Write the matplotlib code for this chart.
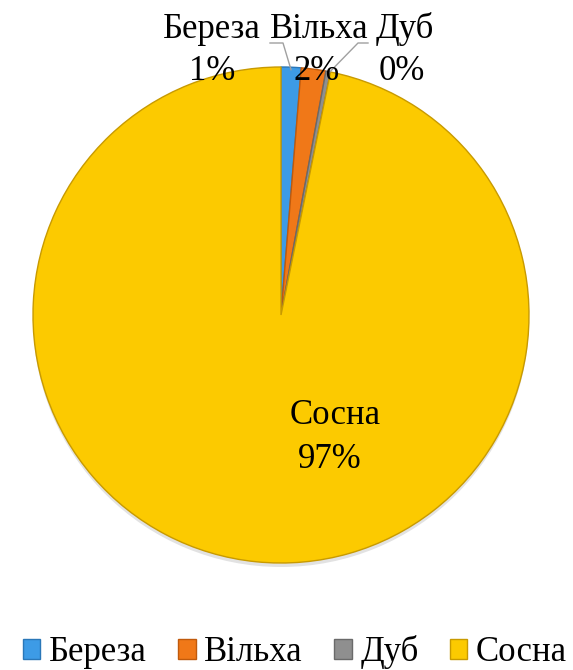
import numpy as np
import matplotlib
matplotlib.use("Agg")
import matplotlib.pyplot as plt
from matplotlib.patches import Patch

species = ["Береза", "Вільха", "Дуб", "Сосна"]
shares = [1.3, 1.6, 0.3, 96.8]
pct_labels = ["1%", "2%", "0%", "97%"]
colors = ["#3d9be6", "#f07818", "#8f8f8f", "#fcca00"]
edges = ["#2a77b8", "#c05a0c", "#6a6a6a", "#c89a00"]

plt.rcParams["font.family"] = ["Liberation Serif", "DejaVu Serif"]

W, H = 573, 670
fig = plt.figure(figsize=(W / 100, H / 100), dpi=100)
ax = fig.add_axes([0, 0, 1, 1])

cx, cy, r = 281, H - 315, 248
# faint shadow under the pie
ax.pie([1], colors=["#e2e2e2"], radius=r, center=(cx, cy - 4),
       frame=True, wedgeprops=dict(linewidth=0))
wedges, _ = ax.pie(shares, colors=colors, startangle=90, counterclock=False,
                   radius=r, center=(cx, cy), frame=True,
                   wedgeprops=dict(linewidth=1.0))
for w, ec in zip(wedges, edges):
    w.set_edgecolor(ec)

ax.set_xlim(0, W)
ax.set_ylim(0, H)
ax.set_aspect("equal")
ax.axis("off")

fs = 25


def edge_point(w, frac=0.99):
    a = np.deg2rad(0.5 * (w.theta1 + w.theta2))
    return cx + frac * r * np.cos(a), cy + frac * r * np.sin(a)


# small-slice labels above the pie
name_x = [212, 319, 405]
pct_x = [212, 317, 402]
for i in range(3):
    ax.text(name_x[i], H - 29, species[i], ha="center", va="center", fontsize=fs)
    ax.text(pct_x[i], H - 72, pct_labels[i], ha="center", va="center", fontsize=fs)

# leader lines (Береза, Дуб)
px, py = edge_point(wedges[0])
ax.plot([270, 283, px], [H - 43, H - 43, py], color="#a0a0a0", lw=1.0)
px, py = edge_point(wedges[2])
ax.plot([368, 358, px], [H - 43, H - 43, py], color="#a0a0a0", lw=1.0)

# main slice label
ax.text(335, H - 415, species[3], ha="center", va="center", fontsize=fs)
ax.text(330, H - 460, pct_labels[3], ha="center", va="center", fontsize=fs)

handles = [Patch(facecolor=c, edgecolor=e, label=s)
           for c, e, s in zip(colors, edges, species)]
fig.legend(handles=handles, loc="lower center", bbox_to_anchor=(0.515, -0.03),
           ncol=4, frameon=False, fontsize=fs, handlelength=0.5,
           handleheight=0.5, handletextpad=0.25, columnspacing=0.9,
           borderaxespad=0.2)

fig.savefig("out.png", dpi=100)
